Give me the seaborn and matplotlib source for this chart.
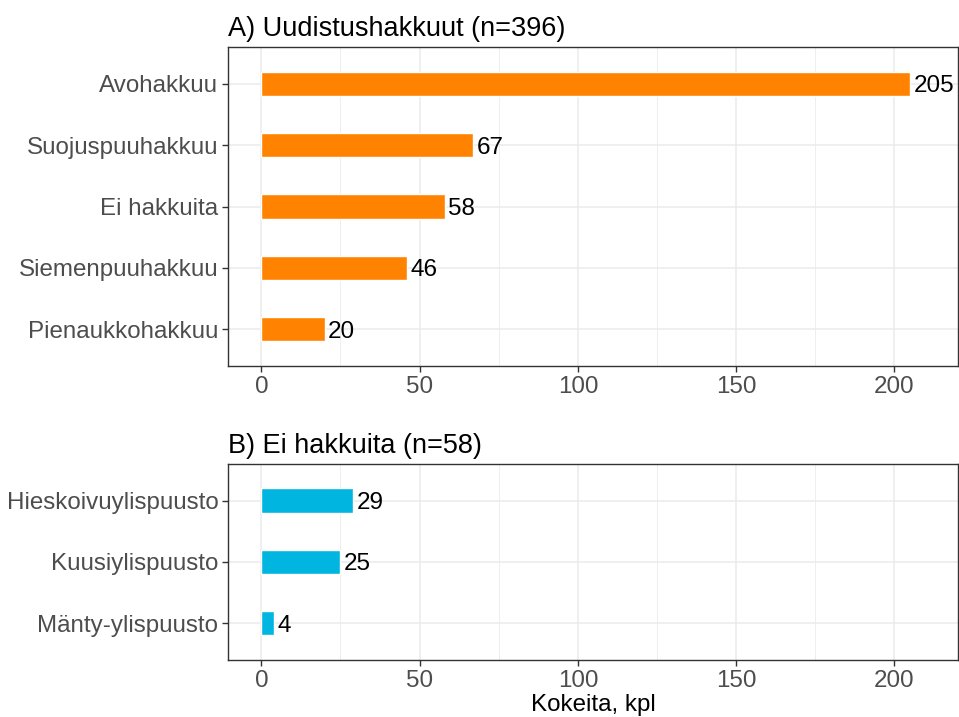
import pandas as pd
import numpy as np
import seaborn as sns
import matplotlib.pyplot as plt

# data
cut_types = ["Avohakkuu", "Suojuspuuhakkuu", "Ei hakkuita", "Siemenpuuhakkuu", "Pienaukkohakkuu"]
cut_counts = [205, 67, 58, 46, 20]
no_cut_types = ["Hieskoivuylispuusto", "Kuusiylispuusto", "Mänty-ylispuusto"]
no_cut_counts = [29, 25, 4]

title_a = "A) Uudistushakkuut (n=396)"
title_b = "B) Ei hakkuita (n=58)"
xlabel = "Kokeita, kpl"

sns.set_theme(style="whitegrid")
plt.rcParams['font.family'] = ['Liberation Sans', 'DejaVu Sans']

fig = plt.figure(figsize=(9.59, 7.17), dpi=100)
ax1 = fig.add_axes([0.2378, 0.4895, 0.7609, 0.4449])
ax2 = fig.add_axes([0.2378, 0.0795, 0.7609, 0.2734])

df_a = pd.DataFrame({"type": cut_types, "n": cut_counts})
df_b = pd.DataFrame({"type": no_cut_types, "n": no_cut_counts})

panels = [(ax1, df_a, "#FF8300", title_a), (ax2, df_b, "#00B6E1", title_b)]
for ax, df, col, title in panels:
	sns.barplot(data=df, y="type", x="n", color=col, width=0.4,
		orient="h", ax=ax, saturation=1)
	labs = ax.bar_label(ax.containers[0], fmt="%d", padding=2.5, fontsize=17.5, color="black")
	for t in labs:
		t.set_va("center_baseline")
	ax.set_xlim(-10.5, 220)
	ax.set_ylim(len(df) - 0.4, -0.6)
	ax.set_xticks([0, 50, 100, 150, 200])
	ax.set_xticks([25, 75, 125, 175], minor=True)
	ax.grid(True, which="major", color="#EBEBEB", linewidth=1.1)
	ax.grid(True, which="minor", axis="x", color="#EBEBEB", linewidth=0.6)
	ax.set_axisbelow(True)
	for s in ax.spines.values():
		s.set_visible(True)
		s.set_color("#333333")
		s.set_linewidth(1.0)
	ax.tick_params(axis="both", which="major", length=4, width=1.0, color="#333333",
		labelsize=17.4, labelcolor="#4D4D4D", left=True, bottom=True, pad=3)
	ax.tick_params(axis="x", which="minor", length=0)
	ax.set_ylabel("")
	ax.set_xlabel("")
	ax.set_title(title, loc="left", fontsize=19.5, pad=8, color="black")

ax2.set_xlabel(xlabel, fontsize=17.4, color="black", labelpad=2)

fig.savefig("out.png", dpi=100, facecolor="white")
